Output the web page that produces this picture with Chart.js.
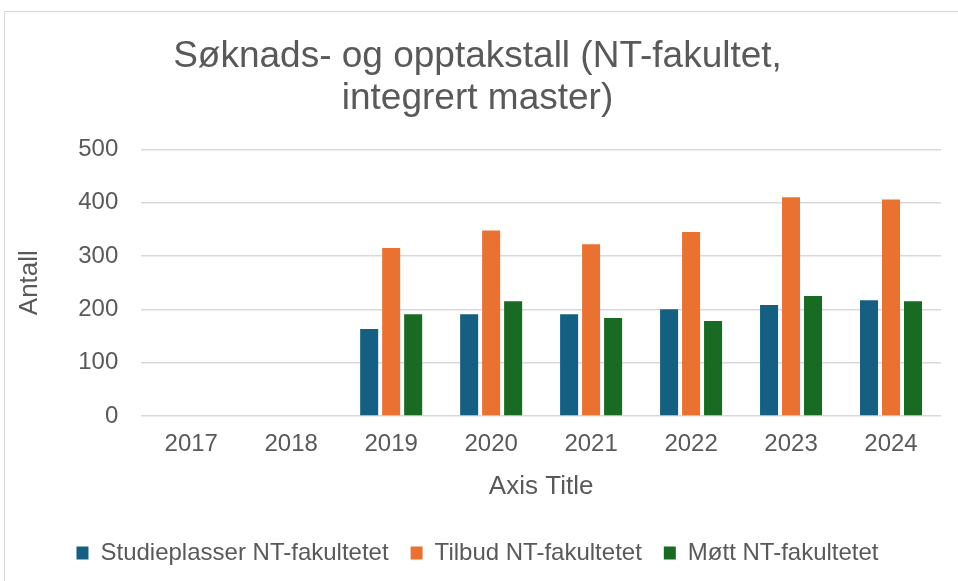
<!DOCTYPE html>
<html>
<head>
<meta charset="utf-8">
<script src="https://cdn.jsdelivr.net/npm/chart.js@4"></script>
<style>
  body { margin: 0; background: #fff; }
  #frame {
    position: absolute; left: 4px; top: 11px; width: 960px; height: 580px;
    border: 1px solid #d9d9d9; box-sizing: border-box;
  }
  #wrap { position: absolute; left: 0; top: 0; width: 958px; height: 581px; }
</style>
</head>
<body>
<div id="frame"></div>
<div id="wrap"><canvas id="myChart"></canvas></div>
<script>
// Years on the x axis
var years = ['2017', '2018', '2019', '2020', '2021', '2022', '2023', '2024'];

// Series values (no data for 2017 and 2018)
var studieplasser = [null, null, 163, 191, 191, 200, 208, 217];
var tilbud = [null, null, 315, 348, 322, 345, 410, 406];
var mott = [null, null, 191, 215, 184, 178, 225, 215];

var textColor = '#595959';
var fontFamily = '"Liberation Sans", Arial, sans-serif';

var data = {
  labels: years,
  datasets: [
    { label: 'Studieplasser NT-fakultetet', data: studieplasser, backgroundColor: '#156082' },
    { label: 'Tilbud NT-fakultetet', data: tilbud, backgroundColor: '#e97132' },
    { label: 'Møtt NT-fakultetet', data: mott, backgroundColor: '#196b24' }
  ]
};

const config = {
  type: 'bar',
  data: data,
  options: {
    responsive: true,
    maintainAspectRatio: false,
    animation: false,
    barPercentage: 0.82,
    categoryPercentage: 0.66,
    layout: { padding: { top: 36, left: 14, right: 17, bottom: 6 } },
    plugins: {
      title: {
        display: true,
        text: ['Søknads- og opptakstall (NT-fakultet,', 'integrert master)'],
        color: textColor,
        font: { family: fontFamily, size: 37, weight: 'normal', lineHeight: 1.14 },
        padding: { top: 0, bottom: 29 }
      },
      legend: {
        position: 'bottom',
        labels: {
          color: textColor,
          font: { family: fontFamily, size: 24 },
          boxWidth: 12,
          boxHeight: 13,
          padding: 22
        }
      },
      tooltip: { enabled: false }
    },
    scales: {
      x: {
        grid: { display: false },
        border: { display: false },
        ticks: { color: textColor, font: { family: fontFamily, size: 24 }, padding: 6 },
        title: {
          display: true,
          text: 'Axis Title',
          color: textColor,
          font: { family: fontFamily, size: 26 },
          padding: { top: 6, bottom: 17 }
        }
      },
      y: {
        min: 0,
        max: 500,
        ticks: { stepSize: 100, color: textColor, font: { family: fontFamily, size: 24 }, padding: 23 },
        grid: { color: '#d9d9d9', lineWidth: 1.5, drawTicks: false },
        border: { display: false },
        title: {
          display: true,
          text: 'Antall',
          color: textColor,
          font: { family: fontFamily, size: 26 },
          padding: { top: 0, bottom: 10 }
        }
      }
    }
  }
};

var myChart = new Chart(document.getElementById('myChart'), config);
</script>
</body>
</html>
